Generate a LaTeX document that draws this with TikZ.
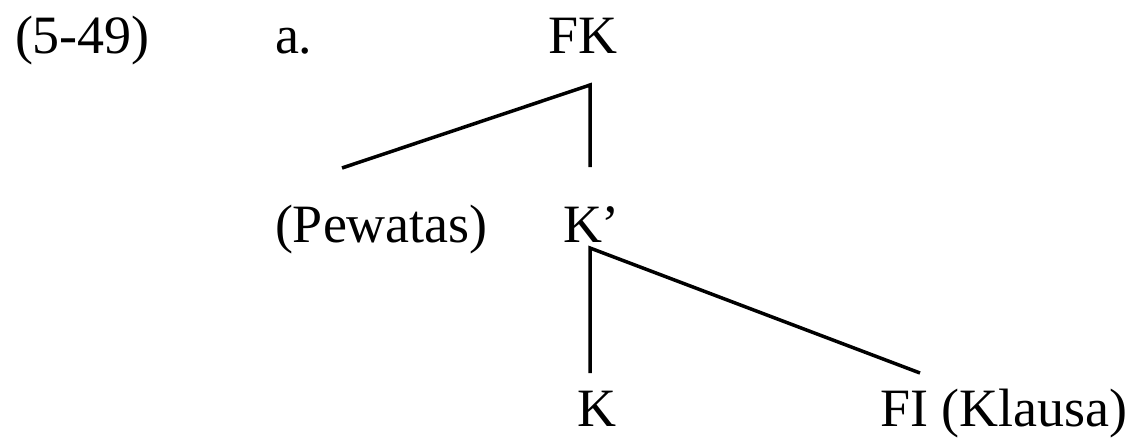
\documentclass[tikz,border=0pt]{standalone}
\usepackage{fontspec}
\setmainfont{Liberation Serif}
\begin{document}
\begin{tikzpicture}[x=1pt,y=-1pt,
  lbl/.style={inner sep=0pt,outer sep=0pt,anchor=base west,font=\fontsize{54}{60}\selectfont},
  branch/.style={line width=3.5pt,line cap=butt}]
\useasboundingbox (0,0) rectangle (1130,439);
\node[lbl] (num) at (15,53) {(5-49)};
\node[lbl] (a) at (275,53) {a.};
\node[lbl] (FK) at (548,53) {FK};
\node[lbl] (Pew) at (275,242) {(Pewatas)};
\node[lbl] (Kp) at (563,242) {K’};
\node[lbl] (K) at (577,426) {K};
\node[lbl] (FI) at (880,426) {FI (Klausa)};
\draw[branch] ([shift={(67,-74)}]Pew.base west) -- ([shift={(7.5,32)}]FK.base) -- ([shift={(27,-75)}]Kp.base west);
\draw[branch] ([shift={(13,-53)}]K.base west) -- ([shift={(27,6)}]Kp.base west) -- ([shift={(40,-53)}]FI.base west);
\end{tikzpicture}
\end{document}
